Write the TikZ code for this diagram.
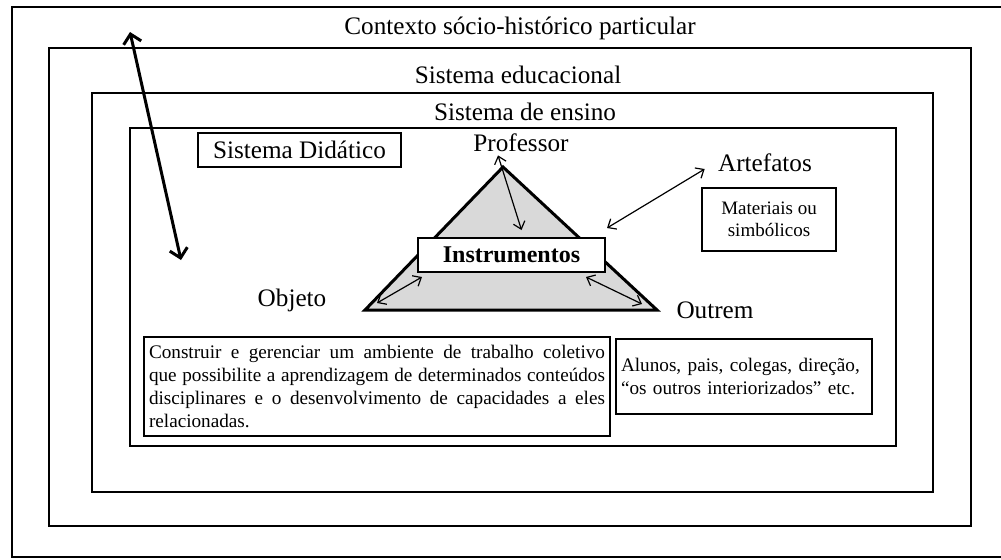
\documentclass[tikz,border=0pt]{standalone}
\usepackage{fontspec}
\setmainfont{Liberation Serif}
\usetikzlibrary{arrows.meta}
\tikzset{
	frameA/.style={draw, line width=1pt},
	boxA/.style={
		draw, line width=1pt, fill=white, inner sep=0pt, align=center
	},
	labelA/.style={inner sep=0pt, font={\fontsize{12.6}{14}\selectfont}},
	txtA/.style={
		draw, line width=0.9pt, inner ysep=0pt, inner xsep=2.5pt, align=justify,
		font={\fontsize{9.6}{11.6}\selectfont}
	},
	arrA/.style={
		{Straight Barb[length=3.5pt,width=6pt]}-{Straight Barb[length=3.5pt,width=6pt]},
		line width=0.6pt
	},
	arrB/.style={
		{Straight Barb[length=4.5pt,width=9pt]}-{Straight Barb[length=4.5pt,width=9pt]},
		line width=1.5pt
	},
}

\begin{document}
\begin{tikzpicture}[x=0.5pt, y=-0.5pt]
\useasboundingbox (0,0) rectangle (1001,559);

% nested frames
\draw[frameA, line width=0.7pt] (1001,7) -| (12,557) -- (1001,557);
\draw[frameA] (49,48) rectangle (971,526);
\draw[frameA] (92,93) rectangle (933,492);
\draw[frameA] (130,128) rectangle (896,446);

\node[labelA] (ctx) at (520,28) {Contexto sócio-histórico particular};
\node[labelA] (edu) at (518,75) {Sistema educacional};
\node[labelA] (ens) at (525,112) {Sistema de ensino};
\node[boxA, labelA, minimum width=101.5pt, minimum height=17pt] (did) at (299.5,150) {Sistema Didático};

% triangle
\coordinate (apex) at (503,167);
\coordinate (bl) at (365,310);
\coordinate (br) at (657,310);
\draw[line width=1.5pt, fill=gray!30] (apex) -- (bl) -- (br) -- cycle;

\node[boxA, font={\bfseries\fontsize{12}{14}\selectfont}, minimum width=93.5pt, minimum height=17pt] (instr) at (511.5,255) {Instrumentos};
\node[labelA] (prof) at (521,143) {Professor};
\node[labelA] (obj) at (292,300) {Objeto};
\node[labelA] (outr) at (715,310) {Outrem};
\node[labelA] (art) at (765,163) {Artefatos};
\node[boxA, font={\fontsize{9.5}{11}\selectfont}, minimum width=67pt, minimum height=31.5pt] (mat) at (769,219.5) {Materiais ou\\simbólicos};

\node[txtA, text width=228pt, minimum height=49.5pt] (objtxt) at (377,386.5) {Construir e gerenciar um ambiente de trabalho coletivo\linebreak que possibilite a aprendizagem de determinados conteúdos\linebreak disciplinares e o desenvolvimento de capacidades a eles\linebreak relacionadas.};
\node[txtA, align=left, text width=123pt, minimum height=37.5pt] (outtxt) at (744,376.5) {Alunos, pais, colegas, direção,\\“os outros interiorizados” etc.};

% arrows
\coordinate (ctxTip) at (130,32);
\coordinate (didTip) at (181,260);
\coordinate (artTip) at (607,228);
\draw[arrB] (ctxTip) -- (didTip);
\draw[arrA] ([xshift=-11.5pt, yshift=-1.5pt]prof.south) -- ([xshift=5pt, yshift=3.5pt]instr.north);
\draw[arrA] ([xshift=6pt, yshift=3.5pt]bl) -- ([xshift=2.5pt, yshift=-2pt]instr.south west);
\draw[arrA] ([xshift=-7.5pt, yshift=3pt]br) -- ([xshift=-10pt, yshift=-2pt]instr.south east);
\draw[arrA] (artTip) -- ([xshift=-6.5pt, yshift=-3pt]art.west);
\end{tikzpicture}
\end{document}
